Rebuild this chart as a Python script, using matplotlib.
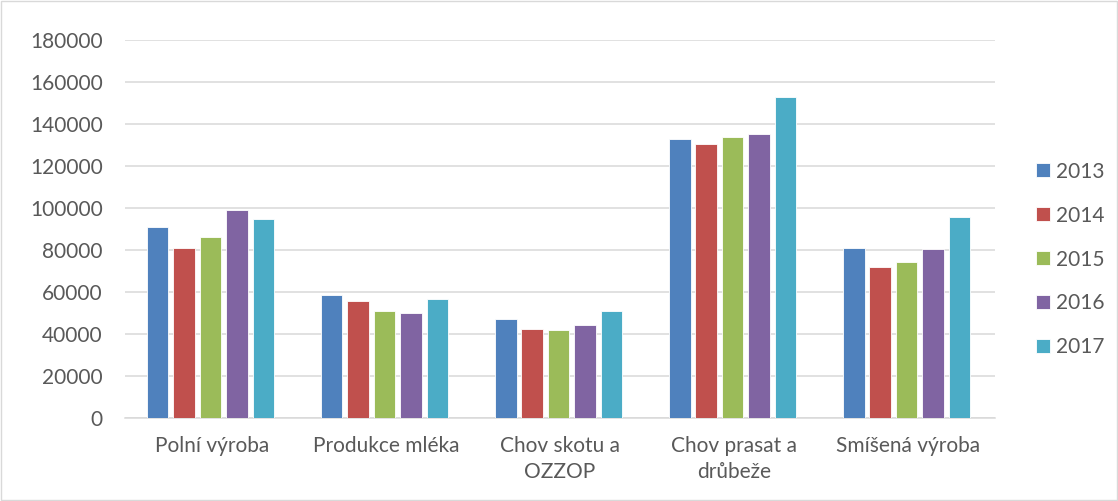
import numpy as np
import matplotlib.pyplot as plt

plt.rcParams['font.family'] = ['Lato', 'DejaVu Sans']

# categories and yearly values
categories = ['Polní výroba', 'Produkce mléka', 'Chov skotu a\nOZZOP',
              'Chov prasat a\ndrůbeže', 'Smíšená výroba']
years = ['2013', '2014', '2015', '2016', '2017']
v2013 = [91100, 58600, 47100, 132700, 81000]
v2014 = [80800, 55600, 42200, 130500, 72000]
v2015 = [86200, 50800, 41800, 134000, 74300]
v2016 = [99000, 50100, 44100, 135200, 80500]
v2017 = [94600, 56700, 51000, 152700, 95600]
yticks = [0, 20000, 40000, 60000, 80000, 100000, 120000, 140000, 160000, 180000]

colors = ['#4F81BD', '#C0504D', '#9BBB59', '#8064A2', '#4BACC6']
series = [v2013, v2014, v2015, v2016, v2017]

fig = plt.figure(figsize=(11.18, 5.01), dpi=100)
ax = fig.add_axes([0.1118, 0.1657, 0.7782, 0.7543])

x = np.arange(len(categories))
pitch = 0.152
width = 0.124
for i, (vals, c, yr) in enumerate(zip(series, colors, years)):
    ax.bar(x + (i - 2) * pitch - 0.008, vals, width, color=c, label=yr,
           edgecolor='white', linewidth=0.6, zorder=3)

ax.set_xlim(-0.5, len(categories) - 0.5)
ax.set_ylim(0, 180000)
ax.set_yticks(yticks)
ax.set_yticklabels([str(t) for t in yticks])
ax.set_xticks(x)
ax.set_xticklabels(categories, linespacing=1.4)
ax.yaxis.grid(True, color='#D9D9D9', linewidth=1.1, zorder=0)

for s in ['top', 'right', 'left']:
    ax.spines[s].set_visible(False)
ax.spines['bottom'].set_color('#D9D9D9')
ax.spines['bottom'].set_linewidth(1.1)
ax.tick_params(axis='both', length=0, labelsize=15, colors='#595959')
ax.tick_params(axis='y', pad=16)
ax.tick_params(axis='x', pad=13)

fig.legend(loc='center left', bbox_to_anchor=(0.9267, 0.482), frameon=False,
           borderpad=0, borderaxespad=0,
           fontsize=15, labelcolor='#595959', handlelength=0.67,
           handleheight=0.67, handletextpad=0.3, labelspacing=1.15)

# thin frame around the whole chart
fig.patches.append(plt.Rectangle((0.001, 0.001), 0.998, 0.998, transform=fig.transFigure,
                                 fill=False, edgecolor='#D9D9D9', linewidth=1))

fig.savefig('out.png', dpi=100)
